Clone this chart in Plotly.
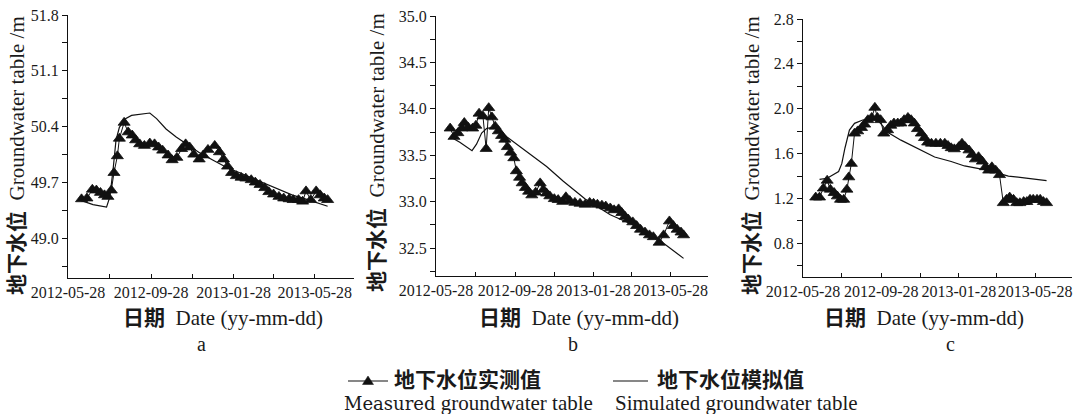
import plotly.graph_objects as go

# ---------------- data ----------------
# Panel a
a_meas_dates = ["2012-06-17", "2012-06-25", "2012-07-03", "2012-07-09", "2012-07-15", "2012-07-21",
                "2012-07-26", "2012-07-31", "2012-08-04", "2012-08-09", "2012-08-12", "2012-08-19",
                "2012-08-25", "2012-08-31", "2012-09-05", "2012-09-11", "2012-09-18", "2012-09-26",
                "2012-10-03", "2012-10-09", "2012-10-15", "2012-10-23", "2012-10-29", "2012-11-05",
                "2012-11-12", "2012-11-18", "2012-11-24", "2012-11-30", "2012-12-08", "2012-12-14",
                "2012-12-21", "2012-12-31", "2013-01-07", "2013-01-13", "2013-01-19", "2013-01-25",
                "2013-02-01", "2013-02-08", "2013-02-15", "2013-02-23", "2013-03-01", "2013-03-08",
                "2013-03-15", "2013-03-21", "2013-03-28", "2013-04-05", "2013-04-12", "2013-04-20",
                "2013-04-26", "2013-05-04", "2013-05-10", "2013-05-15", "2013-05-22", "2013-05-30",
                "2013-06-05", "2013-06-11", "2013-06-16"]
a_meas_vals = [49.49, 49.50, 49.61, 49.60, 49.57, 49.54,
               49.52, 49.60, 49.82, 50.03, 50.25, 50.45,
               50.33, 50.29, 50.23, 50.18, 50.16, 50.19,
               50.18, 50.14, 50.10, 50.04, 49.98, 50.01,
               50.12, 50.18, 50.14, 50.05, 49.99, 50.04,
               50.11, 50.16, 50.08, 49.99, 49.90, 49.82,
               49.78, 49.76, 49.75, 49.73, 49.70, 49.67,
               49.63, 49.58, 49.55, 49.52, 49.50, 49.49,
               49.48, 49.48, 49.46, 49.59, 49.48, 49.59,
               49.54, 49.50, 49.48]
a_sim_dates = ["2012-06-17", "2012-07-04", "2012-07-24", "2012-07-29", "2012-08-03", "2012-08-07",
               "2012-08-12", "2012-08-21", "2012-08-30", "2012-09-11", "2012-09-26", "2012-10-06",
               "2012-10-20", "2012-11-04", "2012-11-19", "2012-12-09", "2012-12-28", "2013-01-17",
               "2013-02-06", "2013-02-26", "2013-03-17", "2013-04-06", "2013-04-25", "2013-05-15",
               "2013-05-30", "2013-06-16"]
a_sim_vals = [49.47, 49.42, 49.39, 49.52, 49.89, 50.23,
              50.39, 50.50, 50.54, 50.55, 50.57, 50.50,
              50.37, 50.27, 50.18, 50.07, 49.98, 49.89,
              49.82, 49.75, 49.68, 49.61, 49.54, 49.49,
              49.45, 49.40]

# Panel b
b_meas_dates = ["2012-06-19", "2012-06-25", "2012-07-01", "2012-07-07", "2012-07-11", "2012-07-17",
                "2012-07-24", "2012-07-29", "2012-08-03", "2012-08-09", "2012-08-14", "2012-08-18",
                "2012-08-23", "2012-08-28", "2012-09-02", "2012-09-07", "2012-09-12", "2012-09-16",
                "2012-09-21", "2012-09-26", "2012-09-30", "2012-10-05", "2012-10-09", "2012-10-14",
                "2012-10-19", "2012-10-24", "2012-10-30", "2012-11-06", "2012-11-11", "2012-11-16",
                "2012-11-21", "2012-11-28", "2012-12-04", "2012-12-11", "2012-12-16", "2012-12-22",
                "2012-12-30", "2013-01-07", "2013-01-15", "2013-01-22", "2013-01-28", "2013-02-03",
                "2013-02-10", "2013-02-16", "2013-02-23", "2013-03-01", "2013-03-08", "2013-03-13",
                "2013-03-18", "2013-03-23", "2013-03-30", "2013-04-05", "2013-04-11", "2013-04-18",
                "2013-04-25", "2013-05-01", "2013-05-10", "2013-05-17", "2013-05-26", "2013-06-01",
                "2013-06-07", "2013-06-13", "2013-06-17"]
b_meas_vals = [33.79, 33.70, 33.74, 33.79, 33.85, 33.80,
               33.79, 33.82, 33.95, 33.92, 33.57, 34.01,
               33.91, 33.81, 33.76, 33.71, 33.67, 33.59,
               33.53, 33.47, 33.33, 33.26, 33.20, 33.15,
               33.11, 33.07, 33.10, 33.20, 33.13, 33.09,
               33.06, 33.03, 33.02, 33.00, 33.05, 33.01,
               32.99, 32.98, 32.97, 32.99, 32.98, 32.97,
               32.96, 32.95, 32.93, 32.91, 32.92, 32.88,
               32.84, 32.81, 32.78, 32.74, 32.70, 32.67,
               32.64, 32.62, 32.56, 32.64, 32.79, 32.74,
               32.70, 32.67, 32.64]
b_sim_dates = ["2012-06-19", "2012-07-04", "2012-07-23", "2012-07-30", "2012-08-07", "2012-08-15",
               "2012-08-25", "2012-09-05", "2012-09-15", "2012-10-21", "2012-11-16", "2012-12-12",
               "2013-01-07", "2013-01-15", "2013-02-23", "2013-03-31", "2013-05-06", "2013-06-17"]
b_sim_vals = [33.70, 33.64, 33.55, 33.62, 33.74, 33.79,
              33.80, 33.76, 33.70, 33.52, 33.38, 33.22,
              33.07, 33.03, 32.86, 32.75, 32.61, 32.39]

# Panel c
c_meas_dates = ["2012-06-17", "2012-06-23", "2012-06-29", "2012-07-05", "2012-07-10", "2012-07-16",
                "2012-07-21", "2012-07-26", "2012-07-31", "2012-08-05", "2012-08-08", "2012-08-12",
                "2012-08-17", "2012-08-22", "2012-08-28", "2012-09-02", "2012-09-07", "2012-09-13",
                "2012-09-18", "2012-09-22", "2012-09-27", "2012-10-02", "2012-10-08", "2012-10-13",
                "2012-10-18", "2012-10-24", "2012-10-29", "2012-11-03", "2012-11-09", "2012-11-14",
                "2012-11-19", "2012-11-24", "2012-11-30", "2012-12-05", "2012-12-10", "2012-12-16",
                "2012-12-23", "2012-12-30", "2013-01-06", "2013-01-11", "2013-01-16", "2013-01-21",
                "2013-01-28", "2013-02-02", "2013-02-07", "2013-02-13", "2013-02-18", "2013-02-23",
                "2013-02-28", "2013-03-06", "2013-03-11", "2013-03-16", "2013-03-21", "2013-03-27",
                "2013-04-02", "2013-04-08", "2013-04-13", "2013-04-18", "2013-04-24", "2013-04-29",
                "2013-05-04", "2013-05-10", "2013-05-15", "2013-05-20", "2013-05-25", "2013-05-31",
                "2013-06-05", "2013-06-10", "2013-06-15"]
c_meas_vals = [1.21, 1.21, 1.29, 1.36, 1.28, 1.25,
               1.22, 1.19, 1.19, 1.28, 1.39, 1.51,
               1.78, 1.80, 1.83, 1.86, 1.90, 1.92,
               2.01, 1.92, 1.90, 1.78, 1.81, 1.85,
               1.87, 1.87, 1.87, 1.90, 1.92, 1.90,
               1.87, 1.82, 1.78, 1.74, 1.70, 1.69,
               1.69, 1.69, 1.69, 1.67, 1.65, 1.64,
               1.66, 1.69, 1.66, 1.63, 1.59, 1.55,
               1.57, 1.53, 1.48, 1.45, 1.48, 1.45,
               1.41, 1.16, 1.19, 1.21, 1.19, 1.16,
               1.16, 1.17, 1.17, 1.19, 1.19, 1.19,
               1.19, 1.17, 1.16]
c_sim_dates = ["2012-06-23", "2012-07-05", "2012-07-23", "2012-07-28", "2012-08-02", "2012-08-09",
               "2012-08-17", "2012-08-30", "2012-09-12", "2012-09-22", "2012-09-30", "2012-10-08",
               "2012-10-29", "2012-11-24", "2012-12-21", "2013-01-16", "2013-02-06", "2013-03-15",
               "2013-04-16", "2013-05-17", "2013-06-15"]
c_sim_vals = [1.37, 1.38, 1.44, 1.51, 1.65, 1.81,
              1.87, 1.90, 1.91, 1.90, 1.85, 1.79,
              1.72, 1.65, 1.57, 1.53, 1.49, 1.45,
              1.40, 1.38, 1.36]

x_tick_labels = ["2012-05-28", "2012-09-28", "2013-01-28", "2013-05-28"]
x_minor_ticks = ["2012-07-28", "2012-11-28", "2013-03-28"]
x_range = ["2012-05-28", "2013-07-25"]

panel_letters = ["a", "b", "c"]

# ---------------- layout helpers ----------------
W, H = 1085, 414


def px(x):
    return x / W


def py(y):
    return 1 - y / H


SERIF = "Liberation Serif, Times New Roman, Noto Sans CJK SC"
INK = "#1a1a1a"

panels = [
    dict(meas=(a_meas_dates, a_meas_vals), sim=(a_sim_dates, a_sim_vals),
         xd=(68, 354), yd=(15, 278), yr=[48.5, 51.8], dt=0.7, t0=49.0, mdt=0.35,
         ytitle_x=17, ytitle_y=156, xtitle_x=223, letter_x=201),
    dict(meas=(b_meas_dates, b_meas_vals), sim=(b_sim_dates, b_sim_vals),
         xd=(436, 708), yd=(16, 276), yr=[32.2, 35.0], dt=0.5, t0=32.5, mdt=0.25,
         ytitle_x=377, ytitle_y=153, xtitle_x=579, letter_x=573),
    dict(meas=(c_meas_dates, c_meas_vals), sim=(c_sim_dates, c_sim_vals),
         xd=(803, 1072), yd=(19, 277), yr=[0.5, 2.8], dt=0.4, t0=0.8, mdt=0.2,
         ytitle_x=752, ytitle_y=156, xtitle_x=924, letter_x=950),
]

fig = go.Figure()
layout = dict(
    width=W, height=H, autosize=False,
    margin=dict(l=0, r=0, t=0, b=0, pad=0),
    paper_bgcolor="white", plot_bgcolor="white",
    showlegend=False,
    font=dict(family=SERIF, color=INK),
)
annotations = []
shapes = []

for i, p in enumerate(panels):
    sfx = "" if i == 0 else str(i + 1)
    xa, ya = "x" + sfx, "y" + sfx

    fig.add_trace(go.Scatter(
        x=p["sim"][0], y=p["sim"][1], xaxis=xa, yaxis=ya, mode="lines",
        line=dict(color="#111", width=1.2), name="Simulated groundwater table"))
    fig.add_trace(go.Scatter(
        x=p["meas"][0], y=p["meas"][1], xaxis=xa, yaxis=ya, mode="lines+markers",
        line=dict(color="#111", width=1),
        marker=dict(symbol="triangle-up", size=10.5, color="#111",
                    line=dict(color="#111", width=0.8)),
        name="Measured groundwater table"))

    layout["xaxis" + sfx] = dict(
        domain=[px(p["xd"][0]), px(p["xd"][1])], anchor=ya,
        type="date", range=x_range, automargin=False,
        tickmode="array", tickvals=x_tick_labels, ticktext=x_tick_labels, tickangle=0,
        ticks="inside", ticklen=4, tickwidth=1, tickcolor="#111",
        minor=dict(tickmode="array", tickvals=x_minor_ticks, ticks="inside",
                   ticklen=4, tickwidth=1, tickcolor="#111"),
        showline=True, linecolor="#111", linewidth=1, mirror=False,
        showgrid=False, zeroline=False,
        tickfont=dict(family=SERIF, size=16, color=INK),
        fixedrange=True,
    )
    layout["yaxis" + sfx] = dict(
        domain=[py(p["yd"][1]), py(p["yd"][0])], anchor=xa,
        range=p["yr"], tickmode="linear", tick0=p["t0"], dtick=p["dt"],
        tickformat=".1f", automargin=False,
        ticks="outside", ticklen=5, tickwidth=1, tickcolor="#111",
        minor=dict(ticks="outside", dtick=p["mdt"], tick0=p["t0"], ticklen=5,
                   tickwidth=1, tickcolor="#111"),
        showline=True, linecolor="#111", linewidth=1, mirror=False,
        showgrid=False, zeroline=False,
        tickfont=dict(family=SERIF, size=16, color=INK),
        fixedrange=True,
    )

    annotations.append(dict(
        xref="paper", yref="paper", x=px(p["ytitle_x"]), y=py(p["ytitle_y"]),
        xanchor="center", yanchor="middle", textangle=-90, showarrow=False,
        text="<b>地下水位</b>\u00a0\u00a0Groundwater table /m",
        font=dict(family=SERIF, size=21, color=INK)))
    annotations.append(dict(
        xref="paper", yref="paper", x=px(p["xtitle_x"]), y=py(318),
        xanchor="center", yanchor="middle", showarrow=False,
        text="<b>日期</b>\u00a0\u00a0Date (yy-mm-dd)",
        font=dict(family=SERIF, size=21, color=INK)))
    annotations.append(dict(
        xref="paper", yref="paper", x=px(p["letter_x"]), y=py(344),
        xanchor="center", yanchor="middle", showarrow=False,
        text=panel_letters[i], font=dict(family=SERIF, size=20, color=INK)))

# ---------------- legend (drawn manually) ----------------
leg_y = 381
shapes.append(dict(type="line", xref="paper", yref="paper",
                   x0=px(348), x1=px(388), y0=py(leg_y), y1=py(leg_y),
                   line=dict(color="#111", width=1.2)))
tri = "M {:.5f},{:.5f} L {:.5f},{:.5f} L {:.5f},{:.5f} Z".format(
    px(362.5), py(leg_y + 3.5), px(373.5), py(leg_y + 3.5), px(368), py(leg_y - 5))
shapes.append(dict(type="path", xref="paper", yref="paper", path=tri,
                   fillcolor="#111", line=dict(color="#111", width=0.5)))
shapes.append(dict(type="line", xref="paper", yref="paper",
                   x0=px(613), x1=px(648), y0=py(leg_y), y1=py(leg_y),
                   line=dict(color="#111", width=1.2)))

annotations += [
    dict(xref="paper", yref="paper", x=px(392), y=py(380), xanchor="left", yanchor="middle",
         showarrow=False, text="<b>地下水位实测值</b>",
         font=dict(family=SERIF, size=21, color=INK)),
    dict(xref="paper", yref="paper", x=px(655), y=py(380), xanchor="left", yanchor="middle",
         showarrow=False, text="<b>地下水位模拟值</b>",
         font=dict(family=SERIF, size=21, color=INK)),
    dict(xref="paper", yref="paper", x=px(342), y=py(403), xanchor="left", yanchor="middle",
         showarrow=False,
         text="<span style='font-family:DejaVu Serif;font-size:18px'>Measured</span> groundwater table",
         font=dict(family=SERIF, size=21, color=INK)),
    dict(xref="paper", yref="paper", x=px(613), y=py(403), xanchor="left", yanchor="middle",
         showarrow=False, text="Simulated groundwater table",
         font=dict(family=SERIF, size=21, color=INK)),
]

layout["annotations"] = annotations
layout["shapes"] = shapes
fig.update_layout(**layout)

fig.write_html("out.html")
